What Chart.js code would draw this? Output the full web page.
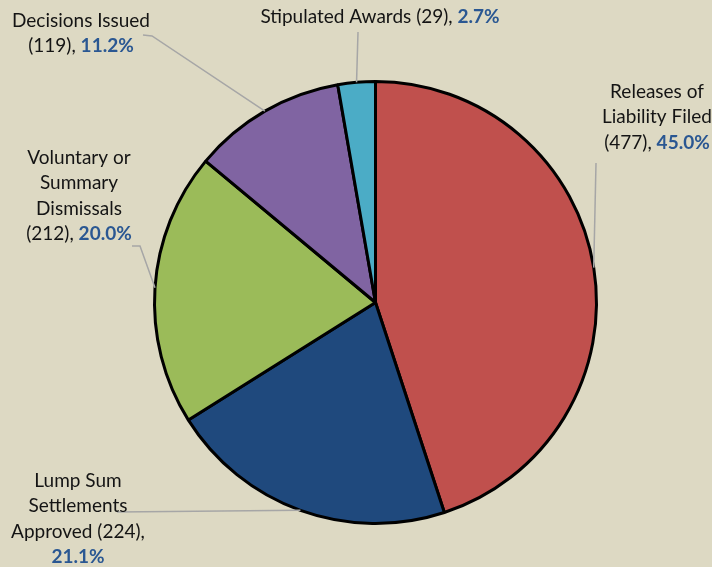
<!DOCTYPE html>
<html>
<head>
<meta charset="utf-8">
<script src="https://cdn.jsdelivr.net/npm/chart.js@4"></script>
<style>
  html, body { margin: 0; padding: 0; background: #ddd9c3; }
  #wrap { width: 712px; height: 567px; }
</style>
</head>
<body>
<div id="wrap"><canvas id="pieChart"></canvas></div>
<script>
// data, clockwise from 12 o'clock
const categories = ["Releases of Liability Filed", "Lump Sum Settlements Approved", "Voluntary or Summary Dismissals", "Decisions Issued", "Stipulated Awards"];
const counts = [477, 224, 212, 119, 29];
const sliceColors = ["#c0504d", "#1f497d", "#9bbb59", "#8064a2", "#4bacc6"];

// label placement: centre x, first line y, words per line, leader line start / elbow
const labelLayout = [
  { x: 657, y: 92, wrap: [2, 2, 2], from: [596, 163], elbow: null },
  { x: 78, y: 481, wrap: [2, 1, 2, 1], from: [117, 512], elbow: null },
  { x: 79, y: 158, wrap: [2, 1, 1, 2], from: [132, 246], elbow: [140, 246] },
  { x: 81, y: 21, wrap: [2, 2], from: [143, 35], elbow: [152, 36] },
  { x: 380, y: 17, wrap: [5], from: [358, 32], elbow: null },
];

const total = counts.reduce((a, b) => a + b, 0);
const FONT = "Lato, 'Open Sans', sans-serif";
const FONT_SIZE = 19;
const LINE_H = 25.3;

const pieLabels = {
  id: "pieLabels",
  afterDatasetsDraw(chart) {
    const ctx = chart.ctx;
    const arcs = chart.getDatasetMeta(0).data;
    ctx.save();
    arcs.forEach((arc, i) => {
      const p = arc.getProps(["x", "y", "startAngle", "endAngle", "outerRadius"], true);
      const mid = (p.startAngle + p.endAngle) / 2;
      const ex = p.x + Math.cos(mid) * p.outerRadius;
      const ey = p.y + Math.sin(mid) * p.outerRadius;
      const lay = labelLayout[i];

      // leader line
      ctx.strokeStyle = "#a6a6a6";
      ctx.lineWidth = 1.5;
      ctx.beginPath();
      ctx.moveTo(lay.from[0], lay.from[1]);
      if (lay.elbow) ctx.lineTo(lay.elbow[0], lay.elbow[1]);
      ctx.lineTo(ex, ey);
      ctx.stroke();

      // label text
      const pct = (counts[i] / total * 100).toFixed(1) + "%";
      const words = categories[i].split(" ").concat(["(" + counts[i] + "),", pct]);
      let k = 0;
      ctx.textBaseline = "middle";
      lay.wrap.forEach((n, li) => {
        const segs = words.slice(k, k + n);
        k += n;
        const parts = segs.map((w, j) => ({
          text: w + (j < segs.length - 1 ? " " : ""),
          bold: w === pct,
        }));
        let width = 0;
        parts.forEach(pt => {
          ctx.font = (pt.bold ? "bold " : "") + FONT_SIZE + "px " + FONT;
          pt.w = ctx.measureText(pt.text).width;
          width += pt.w;
        });
        let x = lay.x - width / 2;
        const y = lay.y + li * LINE_H;
        parts.forEach(pt => {
          ctx.font = (pt.bold ? "bold " : "") + FONT_SIZE + "px " + FONT;
          ctx.fillStyle = pt.bold ? "#2a5792" : "#141414";
          ctx.textAlign = "left";
          ctx.fillText(pt.text, x, y);
          x += pt.w;
        });
      });
    });
    ctx.restore();
  },
};

const ctx = document.getElementById("pieChart").getContext("2d");
const pieChart = new Chart(ctx, {
  type: "pie",
  data: {
    labels: categories,
    datasets: [
      {
        data: counts,
        backgroundColor: sliceColors,
        borderColor: "#000000",
        borderWidth: 3,
      },
    ],
  },
  options: {
    responsive: true,
    maintainAspectRatio: false,
    animation: false,
    layout: {
      padding: { left: 153, right: 114, top: 80, bottom: 42 },
    },
    plugins: {
      legend: { display: false },
      tooltip: { enabled: false },
    },
  },
  plugins: [pieLabels],
});
</script>
</body>
</html>
